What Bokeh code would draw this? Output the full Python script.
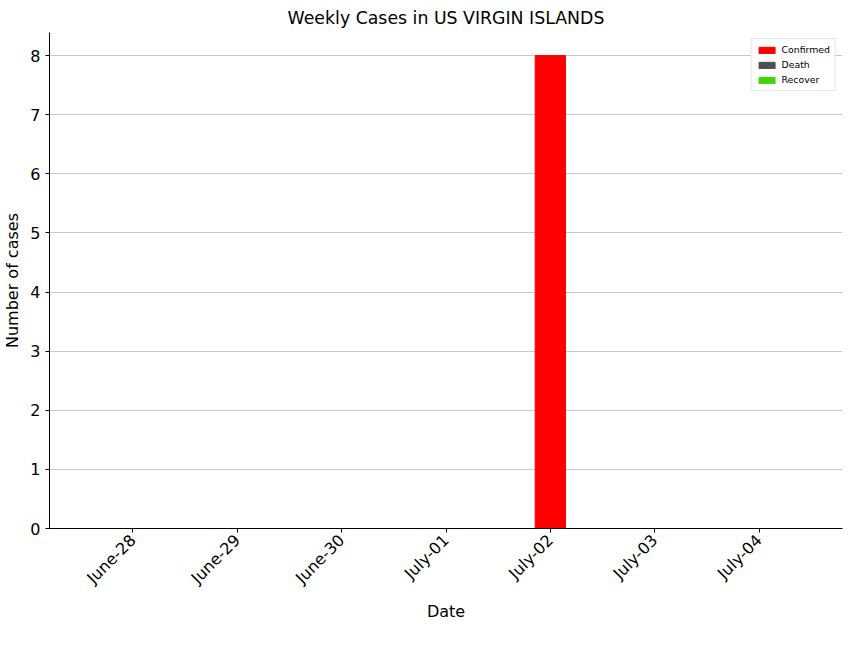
from bokeh.plotting import figure
from bokeh.models import FixedTicker, Range1d, Legend, LegendItem
from bokeh.embed import file_html
from bokeh.resources import INLINE
import math

dates = ["June-28", "June-29", "June-30", "July-01", "July-02", "July-03", "July-04"]
confirmed = [0, 0, 0, 0, 8, 0, 0]
death = [0, 0, 0, 0, 0, 0, 0]
recover = [0, 0, 0, 0, 0, 0, 0]

xs = list(range(len(dates)))
w = 0.29

p = figure(width=848, height=624, output_backend="svg", toolbar_location=None,
           x_range=Range1d(-0.8, 6.8), y_range=Range1d(0, 8.39),
           min_border_left=43, min_border_right=6, min_border_top=23, min_border_bottom=85)
p.title.text = "Weekly Cases in US VIRGIN ISLANDS"
p.title.align = "center"
p.title.text_font = "DejaVu Sans"
p.title.text_font_size = "13pt"
p.title.text_font_style = "normal"
p.title.text_color = "black"

r1 = p.vbar(x=xs, top=confirmed, width=w, color="#ff0000")
r2 = p.vbar(x=[x + w for x in xs], top=death, width=w, color="#4d4d4d")
r3 = p.vbar(x=[x + 2 * w for x in xs], top=recover, width=w, color="#44d40c")

p.xaxis.ticker = FixedTicker(ticks=xs)
p.xaxis.major_label_overrides = {i: d for i, d in enumerate(dates)}
p.xaxis.major_label_orientation = math.radians(45)
p.yaxis.ticker = FixedTicker(ticks=list(range(9)))
for ax in (p.xaxis, p.yaxis):
    ax.major_label_text_font = "DejaVu Sans"
    ax.major_label_text_font_size = "12pt"
    ax.major_label_text_color = "black"
    ax.axis_label_text_font = "DejaVu Sans"
    ax.axis_label_text_font_size = "12pt"
    ax.axis_label_text_font_style = "normal"
    ax.axis_label_text_color = "black"
    ax.minor_tick_line_color = None
    ax.axis_line_color = "black"
    ax.major_tick_line_color = "black"
    ax.major_tick_out = 4
    ax.major_tick_in = 0
p.xaxis.axis_label = "Date"
p.yaxis.axis_label = "Number of cases"
p.xgrid.grid_line_color = None
p.ygrid.grid_line_color = "#c8c8c8"
p.outline_line_color = None

legend = Legend(items=[LegendItem(label="Confirmed", renderers=[r1]),
                       LegendItem(label="Death", renderers=[r2]),
                       LegendItem(label="Recover", renderers=[r3])],
                location="top_right", label_text_font_size="7pt",
                label_text_font="DejaVu Sans", label_text_color="black",
                glyph_height=8, glyph_width=20,
                label_height=8, spacing=4, padding=5, margin=6,
                border_line_color="#cccccc")
p.add_layout(legend)

open("out.html", "w").write(file_html(p, INLINE))
